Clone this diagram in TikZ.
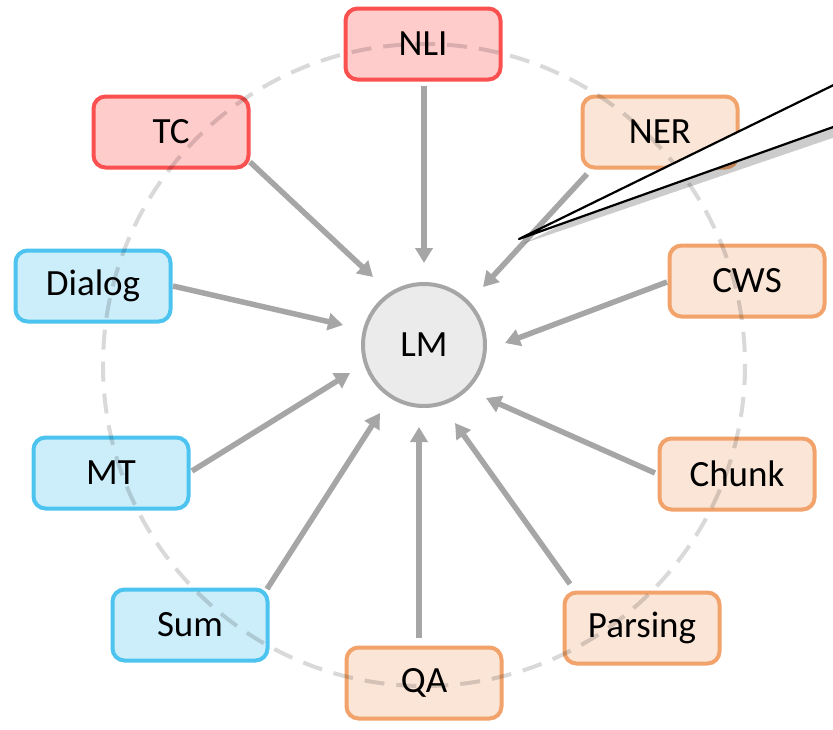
\documentclass[tikz,border=0pt]{standalone}
\usepackage{fontspec}
\setmainfont{Carlito}
\usetikzlibrary{arrows.meta}
\definecolor{redfill}{HTML}{FFCCCC}
\definecolor{reddraw}{HTML}{FA5050}
\definecolor{bluefill}{HTML}{CCEEFA}
\definecolor{bluedraw}{HTML}{4CC4EF}
\definecolor{orfill}{HTML}{FBE5D6}
\definecolor{ordraw}{HTML}{F2A36B}
\definecolor{arrgray}{HTML}{A6A6A6}
\definecolor{lmfill}{HTML}{EBEBEB}
\definecolor{dashgray}{HTML}{D9D9D9}
\tikzset{
  task/.style={rectangle, rounded corners=12pt, line width=4pt, minimum width=155pt, minimum height=71pt, inner sep=0pt, font=\fontsize{37}{42}\selectfont},
  redtask/.style={task, fill=redfill, draw=reddraw},
  bluetask/.style={task, fill=bluefill, draw=bluedraw},
  ortask/.style={task, fill=orfill, draw=ordraw},
  lmnode/.style={circle, minimum size=122pt, inner sep=0pt, line width=4pt, fill=lmfill, draw=arrgray, font=\fontsize{37}{42}\selectfont},
  arr/.style={draw=arrgray, line width=5.5pt, -{Triangle[length=15pt,width=17pt]}},
  ring/.style={draw=dashgray, line width=4pt, dash pattern=on 20pt off 12pt}
}
\begin{document}
\begin{tikzpicture}[x=1pt,y=-1pt]
\useasboundingbox (0,0) rectangle (833,729);
\clip (0,0) rectangle (833,729);
\fill[white] (0,0) rectangle (833,729);

% tasks
\node[redtask] (NLI) at (423,44) {NLI};
\node[redtask] (TC) at (171,132) {TC};
\node[bluetask] (Dialog) at (93,286) {Dialog};
\node[bluetask] (MT) at (111,473) {MT};
\node[bluetask] (Sum) at (190,625) {Sum};
\node[ortask] (QA) at (424,683) {QA};
\node[ortask] (Parsing) at (642,628) {Parsing};
\node[ortask] (Chunk) at (737,474) {Chunk};
\node[ortask] (CWS) at (747,281) {CWS};
\node[ortask] (NER) at (660,132) {NER};

\node[lmnode] (LM) at (424,345) {LM};

% dashed ring
\begin{scope}[blend mode=multiply]
\draw[ring] (424,365) circle[radius=321];
\end{scope}

% arrow end points
\coordinate (nliS) at (424,86);   \coordinate (nliE) at (424,263);
\coordinate (tcS) at (250,162);   \coordinate (tcE) at (373,277);
\coordinate (nerS) at (587,174);  \coordinate (nerE) at (483,287);
\coordinate (dlgS) at (173,286);  \coordinate (dlgE) at (343,325);
\coordinate (cwsS) at (667,282);  \coordinate (cwsE) at (505,343);
\coordinate (mtS) at (192,471);   \coordinate (mtE) at (350,373);
\coordinate (sumS) at (267,589);  \coordinate (sumE) at (380,413);
\coordinate (qaS) at (419,638);   \coordinate (qaE) at (419,427);
\coordinate (parS) at (570,584);  \coordinate (parE) at (455,423);
\coordinate (chkS) at (655,473);  \coordinate (chkE) at (486,398);

\draw[arr] (nliS) -- (nliE);
\draw[arr] (tcS) -- (tcE);
\draw[arr] (nerS) -- (nerE);
\draw[arr] (dlgS) -- (dlgE);
\draw[arr] (cwsS) -- (cwsE);
\draw[arr] (mtS) -- (mtE);
\draw[arr] (sumS) -- (sumE);
\draw[arr] (qaS) -- (qaE);
\draw[arr] (parS) -- (parE);
\draw[arr] (chkS) -- (chkE);

% callout pointer
\coordinate (tip) at (519,239);
\fill[black, opacity=0.2] ([shift={(3,5)}]tip) -- (853,83) -- (853,131) -- cycle;
\fill[white] (tip) -- (850,77) -- (850,121) -- cycle;
\draw[black, line width=2.2pt, line join=round] (850,77) -- (tip) -- (850,121);
\end{tikzpicture}
\end{document}
